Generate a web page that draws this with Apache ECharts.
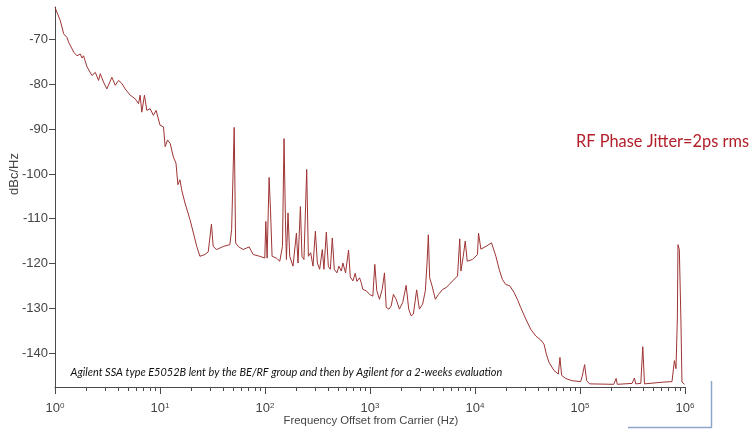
<!DOCTYPE html>
<html><head><meta charset="utf-8">
<script src="https://cdn.jsdelivr.net/npm/echarts@6/dist/echarts.min.js"></script>
<style>html,body{margin:0;padding:0;background:#fff}#c{width:752px;height:429px}</style>
</head><body><div id="c"></div>
<script>
// Frequency offset from carrier (Hz)
const freqHz = [1.0,1.125,1.21,1.30,1.35,1.51,1.62,1.74,1.81,1.87,
2.02,2.25,2.42,2.60,2.70,2.90,3.12,3.48,3.75,4.03,
4.34,4.66,5.20,5.80,6.24,6.47,6.71,7.11,7.49,8.05,
8.65,9.18,10.0,10.8,11.2,11.8,12.5,13.4,14.2,14.8,
15.5,16.1,17.3,19.3,20.8,22.4,24.0,24.9,26.8,28.8,
29.9,30.9,32.1,34.6,40.0,46.3,48.1,50.9,52.5,55.6,
62.0,70.6,77.1,89.3,99.5,101.8,104.7,109.4,112.8,116.8,
128.5,138.2,146.6,151.8,156.5,160.0,165.6,172.0,184.9,199.2,
206.3,217.3,225.0,235.0,249.5,258.8,272.3,286.4,301.8,315.3,
331.5,351.6,364.1,383.8,401,419,437.5,457,484,506,
533,552,585,625,649,687,723,750,795,825,
855,921,989,1064,1111,1161,1231,1306,1374,1426,
1510,1590,1672,1774,1907,2050,2209,2338,2463,2589,
2782,2951,3171,3365,3493,3594,3700,3898,4190,4500,
4911,5293,5690,6116,6817,7156,7345,7730,8075,8435,
9466,10560,10800,11380,12700,14360,15810,16990,18250,19660,
21450,23560,25330,27300,30430,33950,37880,42250,45400,47750,
50680,56530,62100,64420,66840,72960,84330,101400,105000,110700,
115700,123500,209900,220600,226500,313100,330000,339600,379300,396300,
411300,628000,751800,792500,820700,845600,857300,883300,914100,935400,
991000];
// Phase noise (dBc/Hz)
const phaseNoise = [-62.8,-65.8,-68.7,-69.5,-70.6,-72.8,-73.6,-73.2,-74.1,-73.6,
-76.1,-78.0,-77.3,-79.1,-77.6,-79.5,-81.0,-78.4,-80.2,-79.1,
-79.8,-81.0,-82.4,-83.2,-84.3,-82.4,-86.2,-82.4,-85.8,-85.4,
-86.9,-85.8,-89.1,-89.5,-93.9,-92.4,-93.2,-96.2,-97.6,-102.4,
-101.3,-103.6,-106.5,-110.2,-113.2,-116.2,-118.4,-118.8,-118.0,-117.4,
-117.8,-111.2,-116.2,-116.9,-116.2,-115.8,-112.4,-89.6,-115.4,-116.2,
-116.9,-116.3,-118.0,-118.4,-118.8,-110.6,-118.8,-100.8,-108.0,-118.4,
-118.8,-119.5,-116.2,-92.1,-110.2,-119.1,-108.7,-118.4,-120.6,-113.2,
-119.9,-107.3,-118.4,-119.1,-99.0,-118.4,-117.6,-120.6,-112.8,-119.9,
-121.3,-116.9,-121.3,-113.0,-120.6,-121.3,-114.3,-121.3,-122.1,-120.6,
-121.7,-119.9,-122.1,-117.0,-123.0,-123.9,-122.2,-124.0,-123.2,-124.3,
-125.8,-126.1,-126.9,-127.3,-120.2,-126.1,-128.0,-125.8,-122.1,-129.8,
-130.2,-129.5,-126.9,-128.0,-130.2,-128.7,-124.9,-130.2,-131.7,-131.3,
-125.9,-130.2,-129.1,-126.1,-119.9,-113.6,-123.2,-125.0,-128.0,-126.9,
-125.8,-125.4,-124.7,-123.9,-122.8,-114.5,-121.7,-118.4,-115.0,-119.5,
-119.1,-118.0,-113.2,-116.8,-116.2,-115.4,-118.4,-121.3,-123.6,-124.7,
-125.0,-126.5,-128.0,-129.9,-132.4,-134.7,-136.2,-137.1,-138.0,-140.2,
-142.1,-143.9,-144.7,-141.0,-145.0,-145.7,-146.2,-146.4,-145.2,-142.6,
-146.2,-146.9,-147.0,-145.7,-147.0,-146.8,-145.6,-146.9,-146.8,-138.6,
-146.9,-146.5,-146.4,-141.7,-143.5,-132.4,-115.8,-116.9,-132.4,-146.5,
-147.0];
const decadeExponents = [0,1,2,3,4,5,6];
const yTickValues = [-140,-130,-120,-110,-100,-90,-80,-70];
const yTitle = 'dBc/Hz';
const xTitle = 'Frequency Offset from Carrier (Hz)';
const jitterNote = 'RF Phase Jitter=2ps rms';
const sourceNote = 'Agilent SSA type E5052B lent by the BE/RF group and then by Agilent for a 2-weeks evaluation';

const minorTicks = [];
decadeExponents.slice(0, -1).forEach(n => { for (let k = 2; k <= 9; k++) minorTicks.push(n + Math.log10(k)); });

function fitFont(text, family, style, target) {
  const ctx = document.createElement('canvas').getContext('2d');
  ctx.font = style + ' 100px ' + family;
  return 100 * target / ctx.measureText(text).width;
}
const fsRed = fitFont(jitterNote, 'Lato', 'normal', 173);
const fsSrc = fitFont(sourceNote, 'Lato', 'italic', 432);
const fsX = fitFont(xTitle, '"Liberation Sans"', 'normal', 175);

const seriesData = freqHz.map((f, i) => [f, phaseNoise[i]]);
const axisColor = '#4a4a4a';
const labelColor = '#444';

const chart = echarts.init(document.getElementById('c'), null, {renderer: 'canvas'});
chart.setOption({
  animation: false,
  backgroundColor: '#fff',
  grid: {left: 55, right: 67, top: 7, bottom: 42, outerBoundsMode: 'none'},
  xAxis: [
    {type: 'log', logBase: 10, min: 1, max: 1e6, position: 'bottom',
     axisLine: {show: true, onZero: false, lineStyle: {color: axisColor, width: 1}},
     axisTick: {show: false}, axisLabel: {show: false}, splitLine: {show: false}},
    {type: 'value', min: 0, max: 6, interval: 1, position: 'bottom',
     axisLine: {show: false, onZero: false},
     axisTick: {show: true, length: 7, lineStyle: {color: axisColor}},
     axisLabel: {margin: 15, formatter: v => '{a|10}{b|' + v + '}',
       rich: {
         a: {fontSize: 13, fontFamily: 'Liberation Sans', color: labelColor},
         b: {fontSize: 8, fontFamily: 'Liberation Sans', color: labelColor, verticalAlign: 'top', padding: [0, 0, 3, 0]}
       }},
     splitLine: {show: false}},
    {type: 'value', min: 0, max: 6, position: 'bottom',
     axisLine: {show: false, onZero: false},
     axisTick: {show: true, length: 4, customValues: minorTicks, lineStyle: {color: axisColor}},
     axisLabel: {show: false}, splitLine: {show: false}}
  ],
  yAxis: {type: 'value', min: -147.6, max: -62.7,
    axisLine: {show: true, onZero: false, lineStyle: {color: axisColor, width: 1}},
    axisTick: {show: true, length: 6, customValues: yTickValues, lineStyle: {color: axisColor}},
    axisLabel: {customValues: yTickValues, margin: 7, fontSize: 13, fontFamily: 'Liberation Sans', color: labelColor},
    splitLine: {show: false}},
  series: [{type: 'line', xAxisIndex: 0, yAxisIndex: 0, data: seriesData, symbol: 'none', showSymbol: false,
    silent: true, lineStyle: {color: '#9e3434', width: 1}}],
  graphic: [
    {type: 'text', x: 14, y: 174, rotation: Math.PI / 2,
     style: {text: yTitle, fontSize: 13, fontFamily: 'Liberation Sans', fill: labelColor, align: 'center', verticalAlign: 'middle'}},
    {type: 'text', x: 371, y: 421,
     style: {text: xTitle, fontSize: fsX, fontFamily: 'Liberation Sans', fill: labelColor, align: 'center', verticalAlign: 'middle'}},
    {type: 'text', x: 576, y: 142,
     style: {text: jitterNote, fontSize: fsRed, fontFamily: 'Lato', fill: '#b3202b', align: 'left', verticalAlign: 'middle'}},
    {type: 'text', x: 70.5, y: 372,
     style: {text: sourceNote, fontSize: fsSrc, fontFamily: 'Lato', fontStyle: 'italic', fill: '#111', align: 'left', verticalAlign: 'middle'}},
    {type: 'line', shape: {x1: 711.5, y1: 381, x2: 711.5, y2: 427.5}, style: {stroke: '#8fa5cc', lineWidth: 1.5}},
    {type: 'line', shape: {x1: 628, y1: 427.5, x2: 712, y2: 427.5}, style: {stroke: '#8fa5cc', lineWidth: 1.5}}
  ]
});
</script></body></html>
